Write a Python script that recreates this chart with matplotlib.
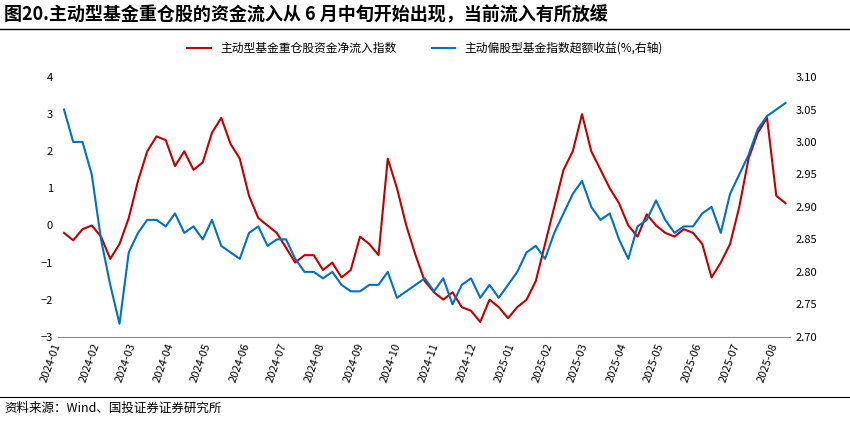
import matplotlib
matplotlib.use("Agg")
import matplotlib.pyplot as plt
import matplotlib.dates as mdates
import pandas as pd

plt.rcParams["font.family"] = ["Noto Sans CJK SC", "DejaVu Sans"]

red_label = "主动型基金重仓股资金净流入指数"
blue_label = "主动偏股型基金指数超额收益(%,右轴)"
red_vals = [-0.2, -0.4, -0.1, 0.0, -0.3, -0.9, -0.5, 0.2,
            1.2, 2.0, 2.4, 2.3, 1.6, 2.0, 1.5, 1.7,
            2.5, 2.9, 2.2, 1.8, 0.8, 0.2, 0.0, -0.2,
            -0.6, -1.0, -0.8, -0.8, -1.2, -1.0, -1.4, -1.2,
            -0.3, -0.5, -0.8, 1.8, 1.0, 0.0, -0.8, -1.5,
            -1.8, -2.0, -1.8, -2.2, -2.3, -2.6, -2.0, -2.2,
            -2.5, -2.2, -2.0, -1.5, -0.5, 0.5, 1.5, 2.0,
            3.0, 2.0, 1.5, 1.0, 0.6, 0.0, -0.3, 0.3,
            0.0, -0.2, -0.3, -0.1, -0.2, -0.5, -1.4, -1.0,
            -0.5, 0.5, 1.8, 2.5, 2.9, 0.8, 0.6]
blue_vals = [3.05, 3.00, 3.00, 2.95, 2.85, 2.78, 2.72, 2.83,
             2.86, 2.88, 2.88, 2.87, 2.89, 2.86, 2.87, 2.85,
             2.88, 2.84, 2.83, 2.82, 2.86, 2.87, 2.84, 2.85,
             2.85, 2.82, 2.80, 2.80, 2.79, 2.80, 2.78, 2.77,
             2.77, 2.78, 2.78, 2.80, 2.76, 2.77, 2.78, 2.79,
             2.77, 2.79, 2.75, 2.78, 2.79, 2.76, 2.78, 2.76,
             2.78, 2.80, 2.83, 2.84, 2.82, 2.86, 2.89, 2.92,
             2.94, 2.90, 2.88, 2.89, 2.85, 2.82, 2.87, 2.88,
             2.91, 2.88, 2.86, 2.87, 2.87, 2.89, 2.90, 2.86,
             2.92, 2.95, 2.98, 3.02, 3.04, 3.05, 3.06]
month_ticks = pd.date_range("2024-01-01", "2025-08-01", freq="MS")

red_dates = pd.date_range("2024-01-02", "2025-08-06", periods=len(red_vals))
blue_dates = pd.date_range("2024-01-02", "2025-08-06", periods=len(blue_vals))

fig = plt.figure(figsize=(8.5, 4.21), dpi=100)
fig.text(0.005, 0.965, "图20.主动型基金重仓股的资金流入从 6 月中旬开始出现，当前流入有所放缓",
         fontsize=13, fontweight="bold", va="center")
fig.add_artist(plt.Line2D([0, 1], [0.93, 0.93], color="black", lw=1))
fig.add_artist(plt.Line2D([0, 1], [0.057, 0.057], color="black", lw=0.8))
fig.text(0.005, 0.03, "资料来源：Wind、国投证券证券研究所", fontsize=9,
         style="italic", va="center")

ax = fig.add_axes([0.068, 0.2, 0.862, 0.617])
ax2 = ax.twinx()
l1, = ax.plot(red_dates, red_vals, color="#C00000", lw=1.5, label=red_label)
l2, = ax2.plot(blue_dates, blue_vals, color="#0070C0", lw=1.5, label=blue_label)
ax.set_ylim(-3, 4)
ax2.set_ylim(2.70, 3.10)
ax2.set_yticks([2.70, 2.75, 2.80, 2.85, 2.90, 2.95, 3.00, 3.05, 3.10])
ax2.yaxis.set_major_formatter(matplotlib.ticker.FormatStrFormatter("%.2f"))
ax.set_xticks(month_ticks)
ax.xaxis.set_major_formatter(mdates.DateFormatter("%Y-%m"))
ax.set_xlim(pd.Timestamp("2023-12-28"), pd.Timestamp("2025-08-10"))
for lab in ax.get_xticklabels():
    lab.set_rotation(70)
    lab.set_ha("right")
for a in (ax, ax2):
    a.tick_params(labelsize=8, length=0)
    for s in a.spines.values():
        s.set_visible(False)
ax.spines["bottom"].set_visible(True)
ax.spines["bottom"].set_color("#888888")
fig.legend(handles=[l1, l2], loc="center", bbox_to_anchor=(0.5, 0.885), ncol=2,
           frameon=False, fontsize=8.5, columnspacing=3)
fig.savefig("out.png", dpi=100)
